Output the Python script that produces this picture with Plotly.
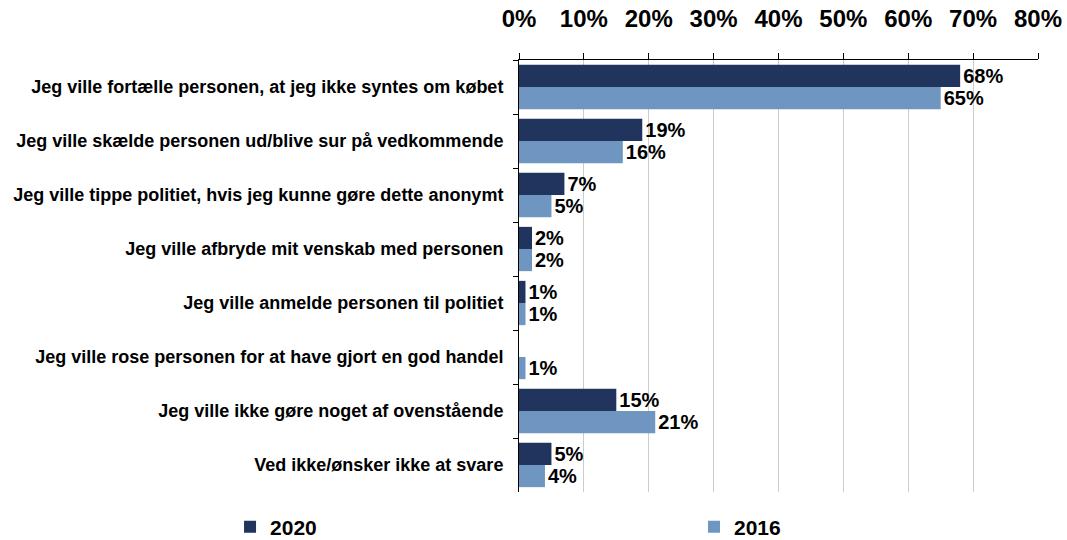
import plotly.graph_objects as go

categories = [
    "Jeg ville fortælle personen, at jeg ikke syntes om købet",
    "Jeg ville skælde personen ud/blive sur på vedkommende",
    "Jeg ville tippe politiet, hvis jeg kunne gøre dette anonymt",
    "Jeg ville afbryde mit venskab med personen",
    "Jeg ville anmelde personen til politiet",
    "Jeg ville rose personen for at have gjort en god handel",
    "Jeg ville ikke gøre noget af ovenstående",
    "Ved ikke/ønsker ikke at svare",
]
values_2020 = [68, 19, 7, 2, 1, None, 15, 5]
values_2016 = [65, 16, 5, 2, 1, 1, 21, 4]
x_ticks = [0, 10, 20, 30, 40, 50, 60, 70, 80]
x_tick_labels = [f"{t}%" for t in x_ticks]

FONT = "Liberation Sans, Arial, sans-serif"
DARK = "#20345E"
LIGHT = "#6E96C0"


def labels(vals):
    return [("" if v is None else f"{v}%") for v in vals]


fig = go.Figure()
fig.add_trace(go.Bar(
    name="2020", y=categories, x=values_2020, orientation="h",
    marker=dict(color=DARK, line=dict(width=0)),
    text=labels(values_2020), textposition="outside",
    textfont=dict(family=FONT, size=20, color="black", weight="bold"),
    cliponaxis=False, legend="legend",
))
fig.add_trace(go.Bar(
    name="2016", y=categories, x=values_2016, orientation="h",
    marker=dict(color=LIGHT, line=dict(width=0)),
    text=labels(values_2016), textposition="outside",
    textfont=dict(family=FONT, size=20, color="black", weight="bold"),
    cliponaxis=False, legend="legend2",
))

legend_font = dict(family=FONT, size=21, color="black", weight="bold")
fig.update_layout(
    width=1067, height=540,
    margin=dict(l=519, r=29, t=60, b=48, autoexpand=False),
    paper_bgcolor="white", plot_bgcolor="white",
    barmode="group", bargap=0.18, bargroupgap=0,
    font=dict(family=FONT, color="black"),
    showlegend=True,
    legend=dict(
        orientation="h", xref="container", yref="container",
        x=0.2156, y=0.024, xanchor="left", yanchor="middle",
        font=legend_font, borderwidth=0,
    ),
    legend2=dict(
        orientation="h", xref="container", yref="container",
        x=0.6504, y=0.024, xanchor="left", yanchor="middle",
        font=legend_font, borderwidth=0,
    ),
)

fig.update_xaxes(
    side="top", range=[0, 80],
    tickvals=x_ticks, ticktext=x_tick_labels,
    tickfont=dict(family=FONT, size=24, color="black", weight="bold"),
    showgrid=True, gridcolor="#CCCCCC", gridwidth=1,
    showline=True, linecolor="black", linewidth=1,
    ticks="outside", ticklen=6, tickcolor="black",
    ticklabelstandoff=16, automargin=False,
    zeroline=False, fixedrange=True,
)
fig.update_yaxes(
    autorange="reversed",
    tickfont=dict(family=FONT, size=18, color="black", weight="bold"),
    showline=True, linecolor="black", linewidth=1,
    ticks="outside", ticklen=5, tickcolor="black",
    tickson="boundaries", showgrid=False,
    ticklabelstandoff=11, automargin=False,
)

fig.write_html(
    "out.html",
    config={"displayModeBar": False},
    post_script="document.body.style.margin='0';document.body.style.overflow='hidden';",
)
